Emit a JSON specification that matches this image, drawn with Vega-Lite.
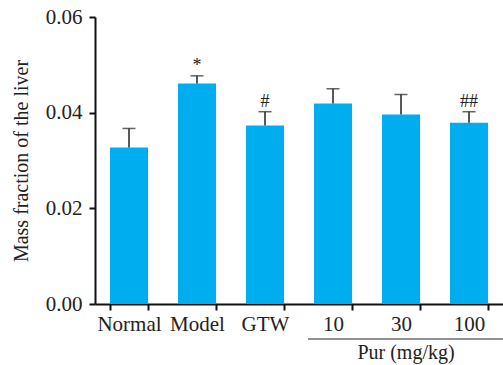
{
  "$schema": "https://vega.github.io/schema/vega-lite/v6.json",
  "width": 408,
  "height": 287,
  "autosize": {"type": "none"},
  "padding": {"left": 95, "top": 17, "right": 0, "bottom": 61},
  "background": "white",
  "config": {"view": {"stroke": null}, "font": "Liberation Serif"},
  "datasets": {
    "bars": [
      {"group": "Normal", "mean": 0.0327, "upper": 0.0367, "sig": ""},
      {"group": "Model", "mean": 0.0461, "upper": 0.0477, "sig": "*"},
      {"group": "GTW", "mean": 0.0373, "upper": 0.0402, "sig": "#"},
      {"group": "10", "mean": 0.0419, "upper": 0.0450, "sig": ""},
      {"group": "30", "mean": 0.0396, "upper": 0.0438, "sig": ""},
      {"group": "100", "mean": 0.0379, "upper": 0.0402, "sig": "##"}
    ],
    "bracket": [
      {"label": "Pur (mg/kg)", "from": "10", "mid": "30", "to": "100"}
    ]
  },
  "layer": [
    {
      "data": {"name": "bars"},
      "mark": {"type": "bar", "color": "#00AEEF"},
      "encoding": {
        "x": {
          "field": "group", "type": "nominal", "sort": null,
          "scale": {"domain": ["Normal", "Model", "GTW", "10", "30", "100"], "paddingInner": 0.44, "paddingOuter": 0.22},
          "axis": {
            "title": null, "labelAngle": 0, "tickBand": "extent",
            "domainColor": "#111", "domainWidth": 2, "tickColor": "#111", "tickWidth": 2, "tickSize": 6,
            "labelFont": "Liberation Serif", "labelFontSize": 21, "labelColor": "#222", "labelPadding": 3
          }
        },
        "y": {
          "field": "mean", "type": "quantitative",
          "scale": {"domain": [0, 0.06], "nice": false},
          "axis": {
            "title": "Mass fraction of the liver", "values": [0, 0.02, 0.04, 0.06], "format": ".2f", "grid": false,
            "domainColor": "#111", "domainWidth": 2, "tickColor": "#111", "tickWidth": 2, "tickSize": 6,
            "labelFont": "Liberation Serif", "labelFontSize": 21, "labelColor": "#222", "labelPadding": 7,
            "titleFont": "Liberation Serif", "titleFontSize": 20, "titleFontWeight": "normal", "titleColor": "#222", "titlePadding": 14
          }
        }
      }
    },
    {
      "data": {"name": "bars"},
      "mark": {"type": "rule", "color": "#222", "strokeWidth": 1.5},
      "encoding": {
        "x": {"field": "group", "type": "nominal", "sort": null},
        "y": {"field": "mean", "type": "quantitative"},
        "y2": {"field": "upper"}
      }
    },
    {
      "data": {"name": "bars"},
      "mark": {"type": "tick", "color": "#222", "thickness": 1.5, "size": 13, "orient": "horizontal"},
      "encoding": {
        "x": {"field": "group", "type": "nominal", "sort": null},
        "y": {"field": "upper", "type": "quantitative"}
      }
    },
    {
      "data": {"name": "bars"},
      "mark": {"type": "text", "fontSize": 18, "dy": -5, "baseline": "alphabetic", "color": "#222", "font": "Liberation Serif"},
      "encoding": {
        "x": {"field": "group", "type": "nominal", "sort": null},
        "y": {"field": "upper", "type": "quantitative"},
        "text": {"field": "sig"}
      }
    },
    {
      "data": {"name": "bracket"},
      "mark": {"type": "rule", "yOffset": 35, "xOffset": -25, "x2Offset": 34, "color": "#222", "strokeWidth": 1},
      "encoding": {
        "x": {"field": "from", "type": "nominal"},
        "x2": {"field": "to"},
        "y": {"datum": 0}
      }
    },
    {
      "data": {"name": "bracket"},
      "mark": {"type": "text", "yOffset": 49, "dx": 5, "fontSize": 20, "baseline": "middle", "color": "#222", "font": "Liberation Serif"},
      "encoding": {
        "x": {"field": "mid", "type": "nominal"},
        "y": {"datum": 0},
        "text": {"field": "label"}
      }
    }
  ]
}
